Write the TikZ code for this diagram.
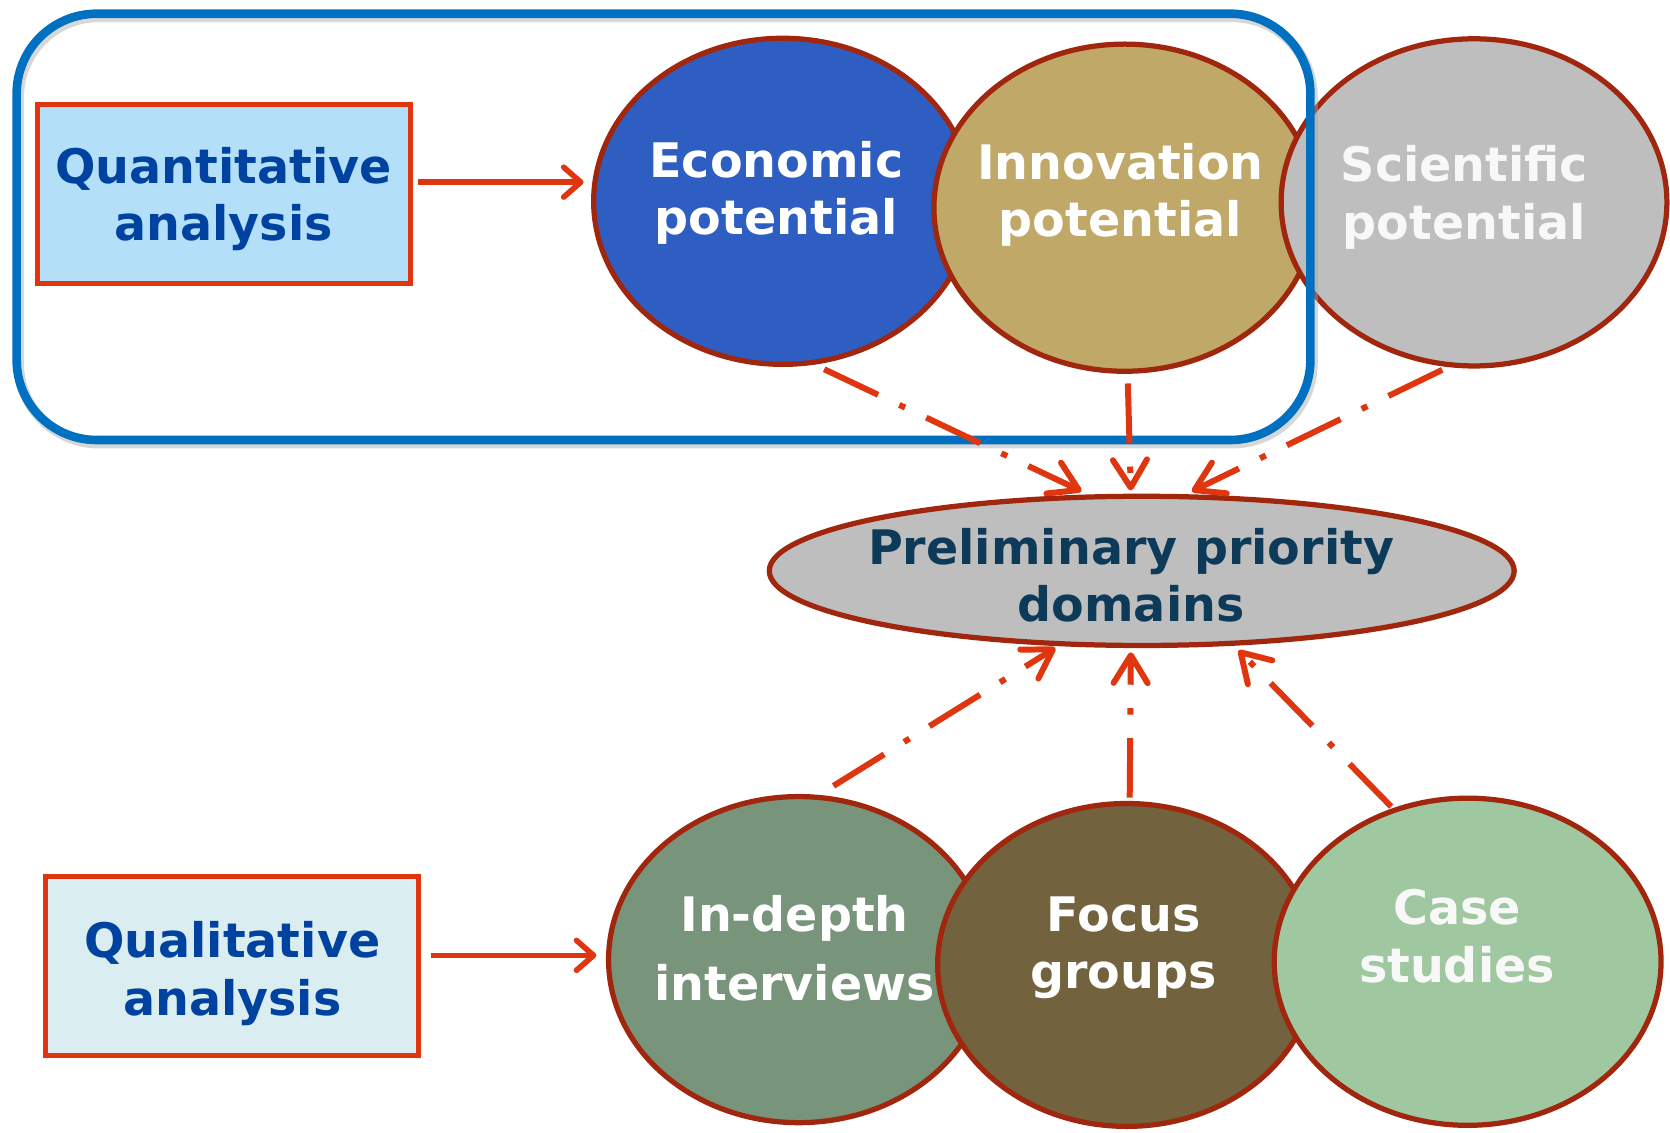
\documentclass[tikz,border=0pt]{standalone}
\usepackage{fontspec}
\setmainfont{DejaVu Sans}
\usetikzlibrary{arrows.meta,shapes.geometric}

\definecolor{arrowred}{RGB}{224,54,16}
\definecolor{rimred}{RGB}{160,38,14}
\definecolor{frameblue}{RGB}{0,112,192}
\definecolor{quantfill}{RGB}{179,224,248}
\definecolor{qualfill}{RGB}{218,237,240}
\definecolor{boxtext}{RGB}{0,66,160}
\definecolor{econfill}{RGB}{46,94,194}
\definecolor{innovfill}{RGB}{192,168,104}
\definecolor{greyfill}{RGB}{190,190,190}
\definecolor{prelimtext}{RGB}{14,58,90}
\definecolor{interviewfill}{RGB}{120,148,122}
\definecolor{focusfill}{RGB}{114,98,62}
\definecolor{casefill}{RGB}{160,200,160}
\definecolor{softwhite}{RGB}{248,248,248}

\tikzset{
  txt/.style={font=\bfseries\fontsize{12.7}{15.4}\selectfont, align=center, inner sep=0pt},
  methodbox/.style={rectangle, draw=arrowred, line width=1.4pt, minimum width=3.5cm,
    minimum height=1.68cm, inner sep=0pt, txt, text=boxtext},
  bubble/.style={ellipse, draw=rimred, line width=1.4pt, inner sep=0pt},
  flow/.style={draw=arrowred, line width=1.5pt,
    -{Straight Barb[length=0.16cm,width=0.28cm,round]}},
  link/.style={draw=arrowred, line width=1.6pt,
    dash pattern=on 0.56cm off 0.22cm on 0.06cm off 0.22cm,
    -{Straight Barb[length=0.26cm,width=0.32cm,round]}},
  groupframe/.style={rectangle, rounded corners=0.75cm, draw=frameblue, line width=2.3pt,
    minimum width=12.14cm, minimum height=4.0cm, inner sep=0pt},
  groupshadow/.style={rectangle, rounded corners=0.75cm, draw=black!35, opacity=0.45,
    line width=2.8pt, minimum width=12.14cm, minimum height=4.0cm, inner sep=0pt},
}

\begin{document}
\begin{tikzpicture}[x=0.01cm,y=-0.01cm]
\useasboundingbox (0,0) rectangle (1568,1063);

% quantitative indicators
\node[bubble, fill=econfill,  minimum width=3.55cm, minimum height=3.06cm] (econ)  at (735,189) {};
\node[bubble, fill=innovfill, minimum width=3.58cm, minimum height=3.07cm] (innov) at (1056,195) {};
\node[bubble, fill=greyfill,  minimum width=3.62cm, minimum height=3.07cm] (sci)   at (1384,190) {};

% frame around the quantitative part
\node[groupshadow] (groupshade) at (625,216) {};
\node[groupframe] (group) at (623,213) {};

% result
\node[bubble, fill=greyfill, minimum width=6.99cm, minimum height=1.40cm] (prelim) at (1072,536) {};

% qualitative methods
\node[bubble, fill=interviewfill, minimum width=3.57cm, minimum height=3.06cm] (indepth) at (750,901) {};
\node[bubble, fill=focusfill,     minimum width=3.55cm, minimum height=3.03cm] (focus)   at (1058,906) {};
\node[bubble, fill=casefill,      minimum width=3.63cm, minimum height=3.07cm] (case)    at (1378,903) {};

% analysis boxes
\node[methodbox, fill=quantfill] (quant) at (210,182) {};
\node[methodbox, fill=qualfill]  (qual)  at (218,907) {};
\node[txt, text=boxtext] (quant-l) at (210,187) {Quantitative\\analysis};
\node[txt, text=boxtext] (qual-l)  at (218,914) {Qualitative\\analysis};

% labels of the ellipses
\node[txt, text=white]      (econ-l)    at (729,181)  {Economic\\potential};
\node[txt, text=white]      (innov-l)   at (1052,183) {Innovation\\potential};
\node[txt, text=softwhite]  (sci-l)     at (1375,185) {Scientific\\potential};
\node[txt, text=prelimtext] (prelim-l)  at (1062,540) {Preliminary priority\\domains};
\node[txt, text=white]      (indepth-l) at (746,890)  {In-depth\\[3pt]interviews};
\node[txt, text=white]      (focus-l)   at (1055,890) {Focus\\groups};
\node[txt, text=softwhite]  (case-l)    at (1368,879) {Case\\studies};

% connectors
\draw[flow] ([shift={(5,-11)}]quant.east) -- ([shift={(-7,-18)}]econ.west);
\draw[flow] ([shift={(9,-10)}]qual.east) -- ([shift={(-9,-4)}]indepth.west);

\draw[link, shorten <=0.1cm, shorten >=0.07cm] (econ.-79) -- (prelim.125);
\draw[link, shorten <=0.09cm, shorten >=0.03cm] (innov.-89) -- (prelim.98);
\draw[link, shorten <=0.06cm, shorten >=0.06cm] (sci.-99) -- (prelim.60);

\draw[link, shorten <=0.16cm, shorten >=0.03cm] (indepth.83) -- (prelim.-138);
\draw[link, shorten <=0.03cm, shorten >=0.04cm] (focus.89) -- (prelim.-98);
\draw[link, shorten <=0.02cm, shorten >=0.06cm] (case.116) -- (prelim.-39);
\end{tikzpicture}
\end{document}
